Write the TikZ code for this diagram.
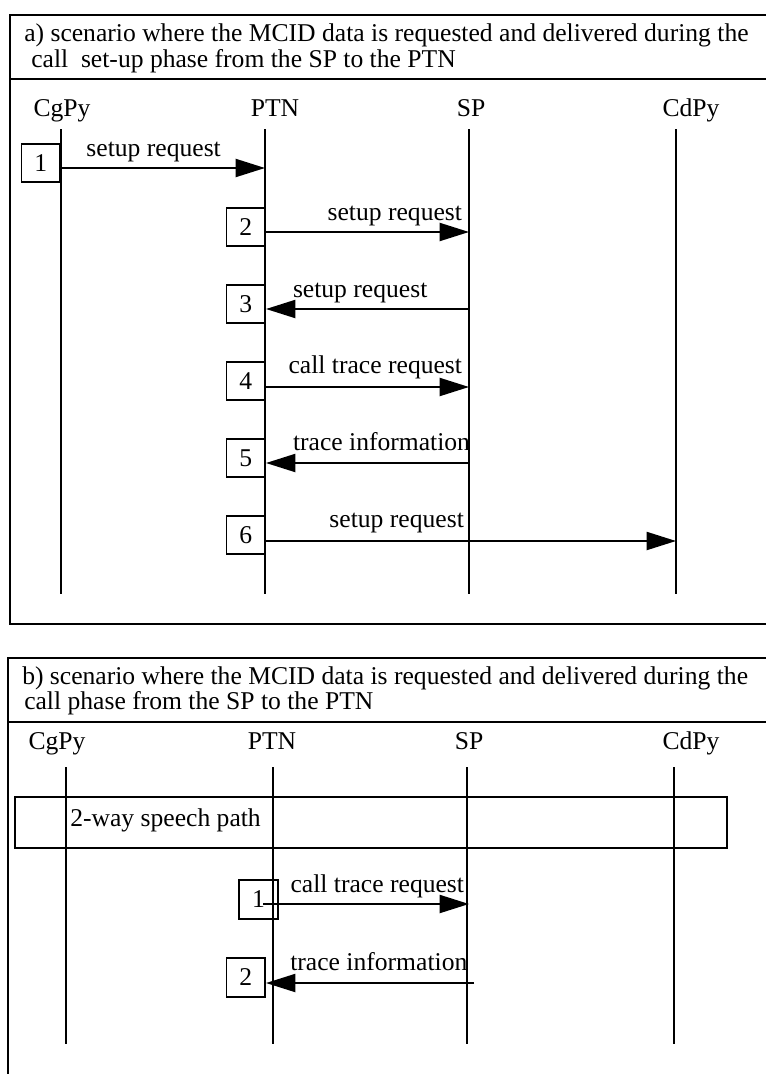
\documentclass[tikz,border=0pt]{standalone}
\usepackage{fontspec}
\setmainfont{Liberation Serif}
\usetikzlibrary{arrows.meta, positioning}
\tikzstyle{frame} = [draw=black, line width=2pt]
\tikzstyle{txt} = [inner sep=0pt, font=\fontsize{19.2}{22}\selectfont]
\tikzstyle{num} = [rectangle, draw=black, line width=1.3pt, minimum width=29pt, minimum height=29pt, inner sep=0pt, font=\fontsize{19.2}{22}\selectfont]
\tikzstyle{life} = [line width=1.2pt]
\tikzstyle{arrow} = [line width=1.5pt, -{Triangle[length=22pt, width=13.5pt]}]

\begin{document}
\begin{tikzpicture}[x=0.75pt, y=-0.75pt]
    \useasboundingbox (0,0) rectangle (765,1074);

    % Panel a) frame and caption
    \draw [frame] (10,15) rectangle (785,624);
    \draw [frame] (10,79) -- (785,79);
    \node (capa1) [txt, anchor=base west] at (24,42) {a) scenario where the MCID data is requested and delivered during the};
    \node (capa2) [txt, anchor=base west] at (31,68) {call~~set-up phase from the SP to the PTN};

    % Parties a)
    \node (cgpya) [txt, anchor=base] at (62,117) {CgPy};
    \node (ptna) [txt, anchor=base] at (275,117) {PTN};
    \node (spa) [txt, anchor=base] at (471,117) {SP};
    \node (cdpya) [txt, anchor=base] at (691,117) {CdPy};
    \draw [life] (61,129) -- (61,594);
    \draw [life] (265,129) -- (265,594);
    \draw [life] (469,129) -- (469,594);
    \draw [life] (676,129) -- (676,594);

    % Steps a)
    \node (a1) [num, anchor=east] at (61,163) {1};
    \node (a2) [num, anchor=east] at (266,227) {2};
    \node (a3) [num, anchor=east] at (266,304) {3};
    \node (a4) [num, anchor=east] at (266,381) {4};
    \node (a5) [num, anchor=east] at (266,458) {5};
    \node (a6) [num, anchor=east] at (266,535) {6};
    \coordinate (a1ptn) at (265,168);
    \coordinate (a2sp) at (469,232);
    \coordinate (a3sp) at (469,309);
    \coordinate (a4sp) at (469,387);
    \coordinate (a5sp) at (469,463);
    \coordinate (a6cdpy) at (676,541);

    \draw [arrow] (a1.east |- a1ptn) -- node[txt, anchor=base, xshift=-7pt, yshift=8.5pt] {setup request} (a1ptn);
    \draw [arrow] (a2.east |- a2sp) -- node[txt, pos=1, anchor=base east, xshift=-4.5pt, yshift=9pt] {setup request} (a2sp);
    \draw [arrow] (a3sp) -- node[txt, pos=1, anchor=base west, xshift=19.5pt, yshift=9pt] {setup request} (a3.east |- a3sp);
    \draw [arrow] (a4.east |- a4sp) -- node[txt, pos=1, anchor=base east, xshift=-4.5pt, yshift=10pt] {call trace request} (a4sp);
    \draw [arrow] (a5sp) -- node[txt, pos=1, anchor=base west, xshift=19.5pt, yshift=9.5pt] {trace information} (a5.east |- a5sp);
    \draw [arrow] (a6.east |- a6cdpy) -- node[txt, pos=0.485, anchor=base east, yshift=10pt] {setup request} (a6cdpy);

    % Panel b) frame and caption
    \draw [frame] (8,658) rectangle (785,1100);
    \draw [frame] (8,722) -- (785,722);
    \node (capb1) [txt, anchor=base west] at (22,684) {b) scenario where the MCID data is requested and delivered during the};
    \node (capb2) [txt, anchor=base west] at (24,709) {call phase from the SP to the PTN};

    % Parties b)
    \node (cgpyb) [txt, anchor=base] at (57,749) {CgPy};
    \node (ptnb) [txt, anchor=base] at (272,749) {PTN};
    \node (spb) [txt, anchor=base] at (469,749) {SP};
    \node (cdpyb) [txt, anchor=base] at (691,749) {CdPy};
    \draw [life] (66,767) -- (66,1044);
    \draw [life] (273,767) -- (273,1044);
    \draw [life] (467,767) -- (467,1044);
    \draw [life] (674,767) -- (674,1044);

    % Speech path
    \draw [line width=1.3pt] (15,797) rectangle (727,848);
    \node (speech) [txt, anchor=base west] at (70,826) {2-way speech path};

    % Steps b)
    \node (b1) [num] at (258.5,899.5) {1};
    \node (b2) [num, anchor=east] at (266,977.5) {2};
    \coordinate (b1ptn) at (263,904);
    \coordinate (b1sp) at (469,904);
    \coordinate (b2sp) at (474,983);
    \draw [arrow] (b1ptn) -- node[txt, pos=1, anchor=base east, xshift=-3pt, yshift=9pt] {call trace request} (b1sp);
    \draw [arrow] (b2sp) -- node[txt, pos=1, anchor=base west, xshift=17.5pt, yshift=9.5pt] {trace information} (b2.east |- b2sp);
\end{tikzpicture}
\end{document}
